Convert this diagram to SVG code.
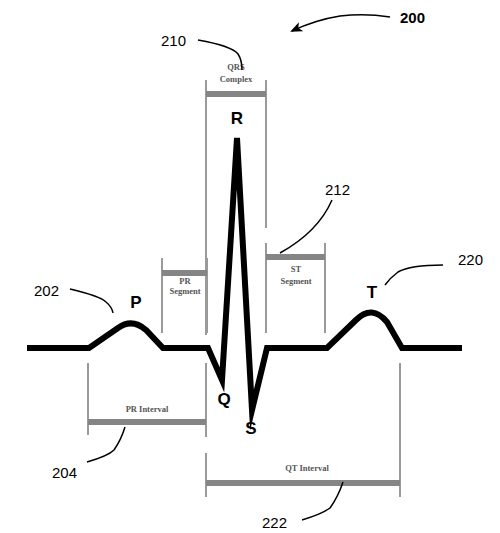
<svg xmlns="http://www.w3.org/2000/svg" width="500" height="533" viewBox="0 0 500 533">
<defs>
<style>
.vl{stroke:#9a9a9a;stroke-width:2;fill:none}
.bar{stroke:#858585;stroke-width:6;fill:none}
.small{font-family:"Liberation Serif",serif;font-weight:bold;font-size:8.5px;fill:#555;text-anchor:middle}
.wave{font-family:"Liberation Sans",Arial,sans-serif;font-weight:bold;font-size:17px;fill:#000;text-anchor:middle}
.ref{font-family:"Liberation Sans",Arial,sans-serif;font-size:15px;fill:#000}
.lead{stroke:#000;stroke-width:1.5;fill:none}
</style>
<marker id="ah" markerWidth="12" markerHeight="10" refX="10" refY="5" orient="auto" markerUnits="userSpaceOnUse">
<path d="M0,0 L12,5 L0,10 L3,5 Z" fill="#000"/>
</marker>
</defs>
<rect width="500" height="533" fill="#fff"/>

<g id="brackets">
<g id="qrs-complex">
<path class="vl" d="M206,80 V335 M266,80 V228"/>
<path class="bar" d="M206,94 H266"/>
<text class="small" x="236" y="70">QRS</text>
<text class="small" x="236" y="82">Complex</text>
</g>
<g id="pr-segment">
<path class="vl" d="M162,258 V333 M207,258 V333"/>
<path class="bar" d="M162,273 H207"/>
<text class="small" x="185" y="284">PR</text>
<text class="small" x="185" y="294">Segment</text>
</g>
<g id="st-segment">
<path class="vl" d="M266,243 V333 M325,243 V333"/>
<path class="bar" d="M266,257 H325"/>
<text class="small" x="296" y="272">ST</text>
<text class="small" x="296" y="284">Segment</text>
</g>
<g id="pr-interval">
<path class="vl" d="M88,363 V435 M206,363 V437"/>
<path class="bar" d="M88,422 H206"/>
<text class="small" x="147" y="412">PR Interval</text>
</g>
<g id="qt-interval">
<path class="vl" d="M206,453 V497 M400,363 V497"/>
<path class="bar" d="M206,483 H400"/>
<text class="small" x="307" y="471">QT Interval</text>
</g>
</g>

<g id="waveform">
<path d="M27,348 H89 L118,328 Q132,318 146,330 L163,348 H208 L222,380 L237,138 L252,410 L267,348 H327 L356,320 Q372,304 387,322 L402,348 H462" fill="none" stroke="#000" stroke-width="6" stroke-linejoin="miter" stroke-miterlimit="10"/>
<text class="wave" x="136" y="308">P</text>
<text class="wave" x="237" y="124">R</text>
<text class="wave" x="224" y="405">Q</text>
<text class="wave" x="251" y="434">S</text>
<text class="wave" x="372" y="298">T</text>
</g>

<g id="connectors">
<path class="lead" d="M390,17 Q365,13 340,16 Q315,20 292,31" marker-end="url(#ah)"/>
<path class="lead" d="M198,40 Q232,46 238,54 Q242,60 242,70"/>
<path class="lead" d="M332,200 Q318,232 280,253"/>
<path class="lead" d="M443,265 Q410,265 398,272 Q390,278 385,285"/>
<path class="lead" d="M70,289 Q100,296 106,302 Q112,307 113,313"/>
<path class="lead" d="M87,462 Q108,456 114,450 Q121,440 125,427"/>
<path class="lead" d="M302,520 Q322,514 330,508 Q338,497 343,482"/>
</g>

<g id="labels">
<text class="ref" x="400" y="23" style="font-weight:bold">200</text>
<text class="ref" x="161" y="46">210</text>
<text class="ref" x="325" y="195">212</text>
<text class="ref" x="458" y="265">220</text>
<text class="ref" x="34" y="296">202</text>
<text class="ref" x="52" y="478">204</text>
<text class="ref" x="262" y="528">222</text>
</g>
</svg>
